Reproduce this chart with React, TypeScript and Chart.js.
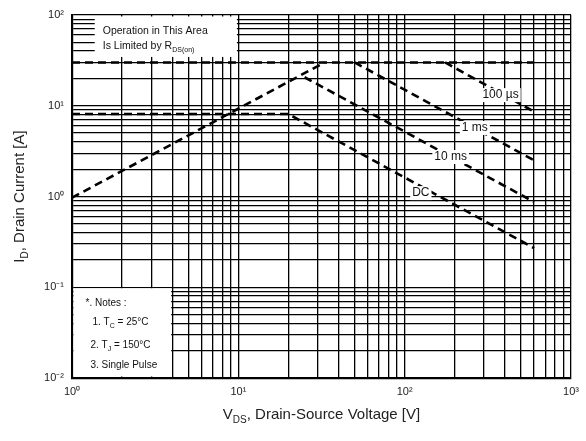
import React, { useEffect, useRef } from "react";
import { Chart, registerables } from "chart.js";

Chart.register(...registerables);

// ---- data ----
const rdsLimitV = [1, 33];
const rdsLimitI = [0.97, 30];
const pulseLimitV = [1, 600];
const pulseLimitI = [30, 30];
const us100V = [175, 600];
const us100I = [30, 8.6];
const ms1V = [50, 600];
const ms1I = [30, 2.5];
const ms10V = [25, 600];
const ms10I = [20.6, 0.87];
const dcV = [1, 20, 600];
const dcI = [8.1, 8.1, 0.27];

const xTickValues = [1, 2, 3, 4, 5, 6, 7, 8, 9, 10, 20, 30, 40, 50, 60, 70, 80, 90, 100, 200, 300, 400, 500, 600, 700, 800, 900, 1000];
const yTickValues = [0.01, 0.02, 0.03, 0.04, 0.05, 0.06, 0.07, 0.08, 0.09, 0.1, 0.2, 0.3, 0.4, 0.5, 0.6, 0.7, 0.8, 0.9, 1, 2, 3, 4, 5, 6, 7, 8, 9, 10, 20, 30, 40, 50, 60, 70, 80, 90, 100];
const decadeLabels: Record<string, string> = {
  "0.01": "10⁻²",
  "0.1": "10⁻¹",
  "1": "10⁰",
  "10": "10¹",
  "100": "10²",
  "1000": "10³",
};

const curveLabels = [
  { text: "100 µs", v: 377, i: 13.1 },
  { text: "1 ms", v: 264, i: 5.69 },
  { text: "10 ms", v: 189, i: 2.72 },
  { text: "DC", v: 125, i: 1.09 },
];

const FONT = "'Liberation Sans', Arial, sans-serif";

type Part = { t: string; sub?: boolean };

function drawRich(ctx: CanvasRenderingContext2D, parts: Part[], x: number, y: number, size: number, align: "left" | "center") {
  const subSize = Math.round(size * 0.68);
  const widths = parts.map((p) => {
    ctx.font = `${p.sub ? subSize : size}px ${FONT}`;
    return ctx.measureText(p.t).width;
  });
  const total = widths.reduce((a, b) => a + b, 0);
  let cx = align === "center" ? x - total / 2 : x;
  ctx.textAlign = "left";
  ctx.textBaseline = "middle";
  parts.forEach((p, k) => {
    ctx.font = `${p.sub ? subSize : size}px ${FONT}`;
    ctx.fillText(p.t, cx, p.sub ? y + size * 0.38 : y);
    cx += widths[k];
  });
}

const toPts = (xs: number[], ys: number[]) => xs.map((x, k) => ({ x, y: ys[k] }));

const annotPlugin = {
  id: "annot",
  beforeDatasetsDraw(chart: any) {
    const { ctx, scales } = chart;
    const xs = scales.x;
    const ys = scales.y;
    ctx.save();
    ctx.fillStyle = "#fff";
    // notes box (bottom-left)
    const nx0 = xs.getPixelForValue(1) + 1.5;
    const nx1 = xs.getPixelForValue(4) - 1;
    const ny0 = ys.getPixelForValue(0.1) + 1;
    const ny1 = ys.getPixelForValue(0.01) - 1.5;
    ctx.fillRect(nx0, ny0, nx1 - nx0, ny1 - ny0);
    // R_DS(on) note box (top-left)
    const tx0 = xs.getPixelForValue(1.37);
    const tx1 = xs.getPixelForValue(9.8);
    const ty0 = ys.getPixelForValue(100) + 1.5;
    const ty1 = ys.getPixelForValue(34.5);
    ctx.fillRect(tx0, ty0, tx1 - tx0, ty1 - ty0);

    ctx.fillStyle = "#111";
    const fs = 10;
    drawRich(ctx, [{ t: "*. Notes :" }], nx0 + 12, ny0 + 15, fs, "left");
    drawRich(ctx, [{ t: "1. T" }, { t: "C", sub: true }, { t: " = 25°C" }], nx0 + 19, ny0 + 34, fs, "left");
    drawRich(ctx, [{ t: "2. T" }, { t: "J", sub: true }, { t: " = 150°C" }], nx0 + 17, ny0 + 57, fs, "left");
    drawRich(ctx, [{ t: "3. Single Pulse" }], nx0 + 17, ny0 + 77, fs, "left");

    drawRich(ctx, [{ t: "Operation in This Area" }], tx0 + 8, ty0 + 15, 10.5, "left");
    drawRich(ctx, [{ t: "Is Limited by R" }, { t: "DS(on)", sub: true }], tx0 + 8, ty0 + 30, 10.5, "left");
    ctx.restore();
  },
  afterDatasetsDraw(chart: any) {
    const { ctx, scales } = chart;
    ctx.save();
    ctx.font = `12px ${FONT}`;
    ctx.textAlign = "center";
    ctx.textBaseline = "middle";
    curveLabels.forEach((l) => {
      const px = scales.x.getPixelForValue(l.v);
      const py = scales.y.getPixelForValue(l.i);
      const w = ctx.measureText(l.text).width + 4;
      ctx.fillStyle = "#fff";
      ctx.fillRect(px - w / 2, py - 7, w, 14);
      ctx.fillStyle = "#111";
      ctx.fillText(l.text, px, py);
    });
    ctx.restore();
  },
  afterDraw(chart: any) {
    const { ctx, chartArea } = chart;
    ctx.save();
    ctx.fillStyle = "#222";
    const cx = (chartArea.left + chartArea.right) / 2;
    drawRich(ctx, [{ t: "V" }, { t: "DS", sub: true }, { t: ", Drain-Source Voltage [V]" }], cx, chartArea.bottom + 37, 15, "left" === "left" ? "center" : "center");
    ctx.translate(20, (chartArea.top + chartArea.bottom) / 2);
    ctx.rotate(-Math.PI / 2);
    drawRich(ctx, [{ t: "I" }, { t: "D", sub: true }, { t: ", Drain Current [A]" }], 0, 0, 15, "center");
    ctx.restore();
  },
};

export default function App() {
  const ref = useRef<HTMLCanvasElement | null>(null);
  useEffect(() => {
    if (!ref.current) return;
    const dash = {
      borderColor: "#000",
      borderWidth: 2.6,
      borderDash: [8, 5],
      pointRadius: 0,
      fill: false,
      tension: 0,
    };
    const chart = new Chart(ref.current, {
      type: "line",
      data: {
        datasets: [
          { label: "RDS(on) limit", data: toPts(rdsLimitV, rdsLimitI), ...dash },
          { label: "Pulse limit", data: toPts(pulseLimitV, pulseLimitI), ...dash },
          { label: "100 µs", data: toPts(us100V, us100I), ...dash },
          { label: "1 ms", data: toPts(ms1V, ms1I), ...dash },
          { label: "10 ms", data: toPts(ms10V, ms10I), ...dash },
          { label: "DC", data: toPts(dcV, dcI), ...dash },
        ],
      },
      options: {
        animation: false,
        responsive: true,
        maintainAspectRatio: false,
        layout: { padding: { left: 0, right: 12, top: 15, bottom: 0 } },
        plugins: { legend: { display: false }, tooltip: { enabled: false } },
        scales: {
          x: {
            type: "logarithmic",
            min: 1,
            max: 1000,
            afterBuildTicks: (s: any) => {
              s.ticks = xTickValues.map((v) => ({ value: v }));
            },
            afterFit: (s: any) => {
              s.height = 63;
            },
            grid: { color: "#000", lineWidth: 1.3, drawTicks: false },
            border: { display: true, color: "#000", width: 2.2 },
            ticks: {
              autoSkip: false,
              maxRotation: 0,
              padding: 7,
              color: "#222",
              font: { family: FONT, size: 11 },
              callback: (v: any) => decadeLabels[String(v)] ?? "",
            },
          },
          y: {
            type: "logarithmic",
            min: 0.01,
            max: 100,
            afterBuildTicks: (s: any) => {
              s.ticks = yTickValues.map((v) => ({ value: v }));
            },
            afterFit: (s: any) => {
              s.width = 72;
            },
            grid: { color: "#000", lineWidth: 1.3, drawTicks: false },
            border: { display: true, color: "#000", width: 2.2 },
            ticks: {
              autoSkip: false,
              padding: 8,
              color: "#222",
              font: { family: FONT, size: 11 },
              callback: (v: any) => decadeLabels[String(v)] ?? "",
            },
          },
        },
      },
      plugins: [annotPlugin],
    } as any);
    return () => chart.destroy();
  }, []);
  return (
    <div style={{ position: "fixed", left: 0, top: 0, width: 586, height: 441, background: "#fff" }}>
      <canvas ref={ref} />
    </div>
  );
}
